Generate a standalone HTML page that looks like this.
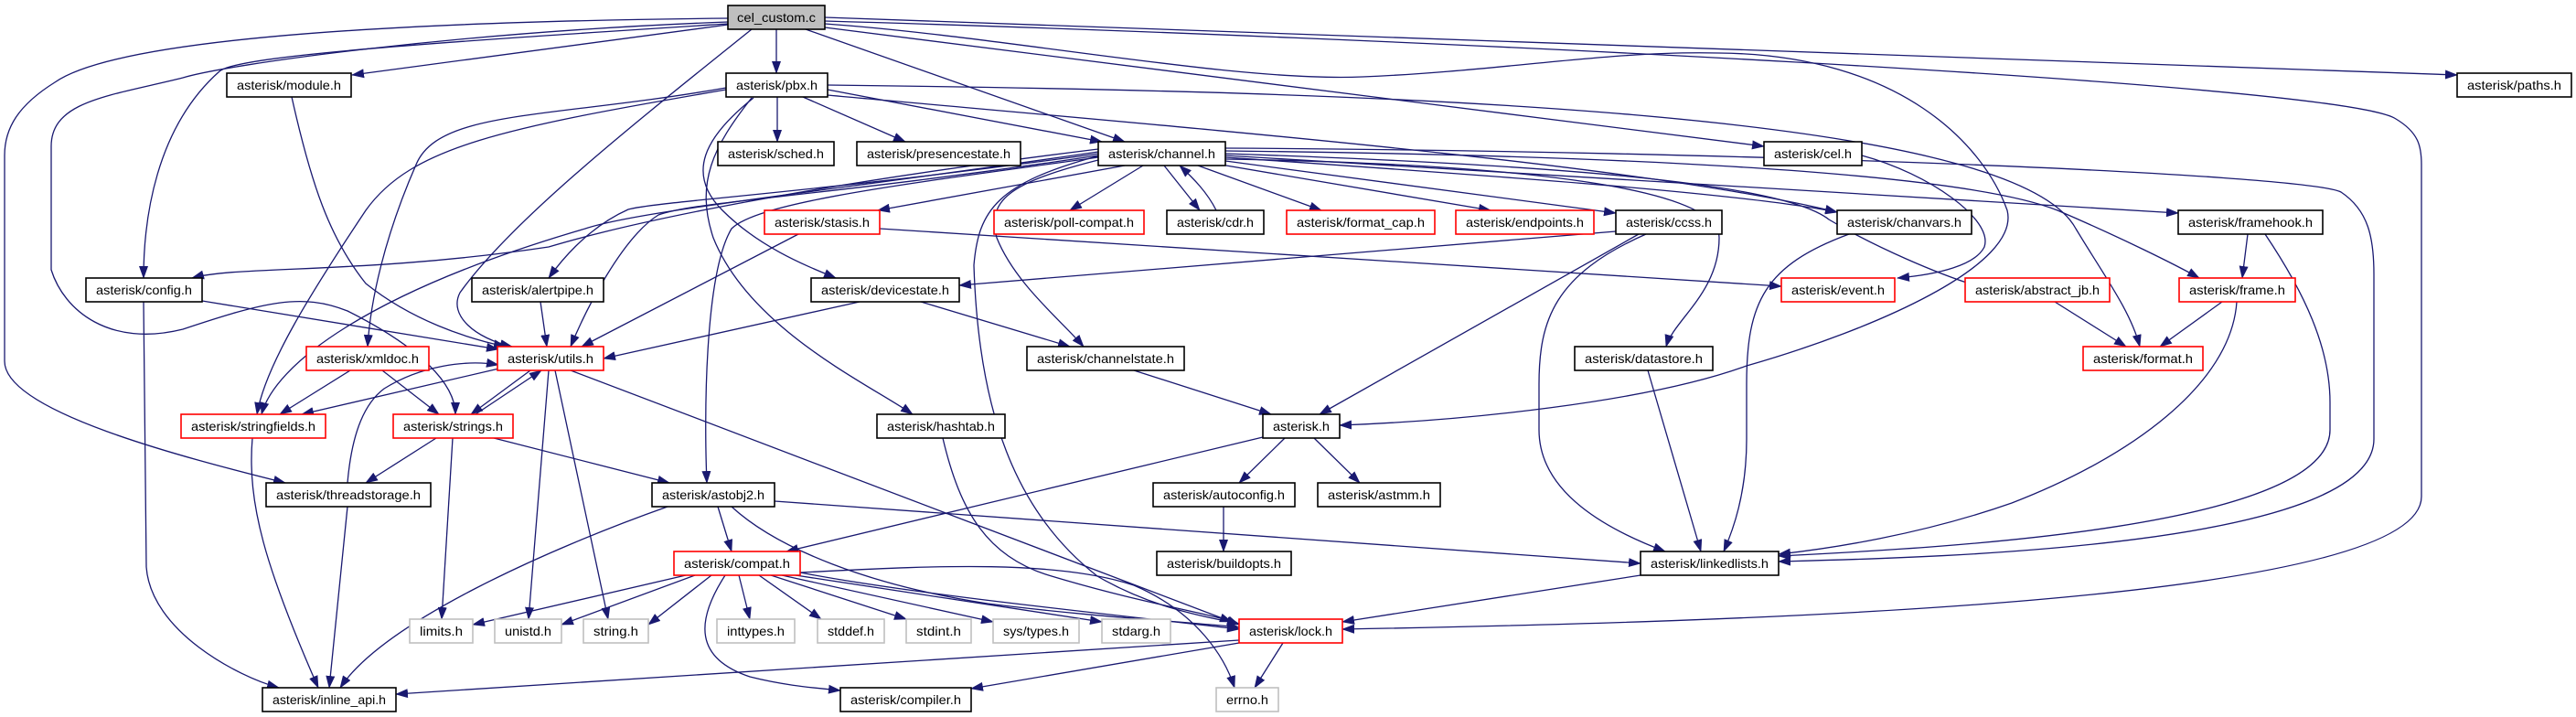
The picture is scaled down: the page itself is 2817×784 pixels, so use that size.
<!DOCTYPE html>
<html><head><meta charset="utf-8">
<style>
html,body{margin:0;padding:0;background:#fff;}
svg{display:block;}
text{font-family:"Liberation Sans",sans-serif;font-size:14px;fill:#000;}
.e{fill:none;stroke:#191970;stroke-width:1.3;marker-end:url(#a);}
.n rect{fill:#fff;stroke:#000;stroke-width:1.6;}
.r rect{fill:#fff;stroke:#ff0000;stroke-width:1.6;}
.g rect{fill:#fff;stroke:#bfbfbf;stroke-width:1.6;}
</style></head>
<body>
<svg width="2817" height="784" viewBox="0 0 2817 784" xmlns="http://www.w3.org/2000/svg">
<defs>
<marker id="a" markerWidth="14" markerHeight="10" refX="13" refY="5" orient="auto" markerUnits="userSpaceOnUse">
<path d="M0,0 L14,5 L0,10 z" fill="#191970"/>
</marker>
</defs>

<!-- edges -->
<g>
<!-- cel_custom.c -->
<path class="e" d="M796,27 L385,82"/>
<path class="e" d="M849,32 L849,80"/>
<path class="e" d="M822,32 C700,130 560,240 503,320 C490,345 520,370 560,379"/>
<path class="e" d="M796,26 C500,45 260,60 240,78 C170,140 157,240 157,304"/>
<path class="e" d="M796,24 C500,35 250,70 200,85 C120,105 56,110 56,160 L56,295 C70,340 120,380 200,360 C290,330 330,320 380,340 C460,380 498,420 498,453"/>
<path class="e" d="M796,20 C300,25 110,55 60,90 C20,115 5,140 5,170 L5,395 C5,450 200,500 312,528"/>
<path class="e" d="M881,32 L1230,155"/>
<path class="e" d="M902,30 L1929,160"/>
<path class="e" d="M902,19 L2687,82"/>
<path class="e" d="M902,23 C1500,40 2560,90 2620,130 C2645,145 2648,160 2648,180 L2648,543 C2648,660 1900,680 1468,688"/>
<path class="e" d="M902,26 C1100,40 1350,90 1490,84 C1640,78 1760,55 1880,58 C2080,60 2170,160 2195,230 C2210,290 2050,360 1910,400 C1800,440 1600,460 1465,465"/>
<!-- pbx.h -->
<path class="e" d="M850,106 L850,155"/>
<path class="e" d="M878,106 L990,155"/>
<path class="e" d="M905,98 L1205,155"/>
<path class="e" d="M905,93 C1500,100 2200,120 2270,250 C2300,300 2330,340 2340,379"/>
<path class="e" d="M905,104 C1300,140 1800,180 2009,232"/>
<path class="e" d="M794,96 C600,130 480,120 455,180 C420,260 405,330 402,379"/>
<path class="e" d="M794,98 C550,140 450,160 400,230 C340,320 290,400 281,453"/>
<path class="e" d="M824,107 C770,150 750,190 790,230 C830,270 880,290 914,304"/>
<path class="e" d="M822,107 C780,160 760,200 780,260 C820,360 950,420 998,453"/>
<!-- channel.h -->
<path class="e" d="M1201,163 C900,200 700,240 600,270 C400,300 260,290 210,304"/>
<path class="e" d="M1201,166 C900,210 700,230 640,250 C400,320 300,400 286,453"/>
<path class="e" d="M1201,168 C900,210 720,220 687,229 C640,250 610,290 600,304"/>
<path class="e" d="M1201,170 C900,215 760,220 720,235 C680,260 640,340 624,379"/>
<path class="e" d="M1201,172 C1000,200 830,220 800,250 C770,300 770,460 773,528"/>
<path class="e" d="M1230,181 L960,230"/>
<path class="e" d="M1250,181 L1170,230"/>
<path class="e" d="M1273,181 L1312,230"/>
<path class="e" d="M1330,230 C1320,210 1305,195 1290,181"/>
<path class="e" d="M1310,181 L1445,230"/>
<path class="e" d="M1335,180 L1630,230"/>
<path class="e" d="M1340,176 L1767,233"/>
<path class="e" d="M1340,172 C1600,190 1900,210 2009,232"/>
<path class="e" d="M1340,170 L2382,233"/>
<path class="e" d="M1340,168 C1700,180 1950,200 2000,240 C2050,270 2120,300 2163,313"/>
<path class="e" d="M1340,165 C1800,170 2150,190 2250,230 C2320,260 2380,290 2405,304"/>
<path class="e" d="M1340,162 C1900,165 2520,190 2560,210 C2590,230 2596,260 2596,300 L2596,480 C2596,600 2100,610 1945,614"/>
<path class="e" d="M1340,174 C1700,180 1880,210 1880,260 C1880,320 1830,350 1822,379"/>
<path class="e" d="M1205,174 C1100,200 1080,220 1090,260 C1110,310 1160,350 1185,379"/>
<path class="e" d="M1203,170 C1090,200 1070,230 1065,290 C1070,450 1110,560 1200,630 C1260,665 1320,675 1355,682"/>
<!-- second row -->
<path class="e" d="M875,255 L636,379"/>
<path class="e" d="M962,250 L1948,313"/>
<path class="e" d="M1767,253 L1049,312"/>
<path class="e" d="M1792,256 L1443,453"/>
<path class="e" d="M1800,256 C1700,300 1683,350 1683,420 L1683,470 C1683,540 1760,580 1821,603"/>
<path class="e" d="M2022,256 C1930,290 1910,330 1910,420 L1910,480 C1910,540 1895,580 1885,603"/>
<path class="e" d="M2036,170 C2110,190 2180,240 2170,270 C2160,290 2120,300 2075,304"/>
<path class="e" d="M2458,256 L2452,304"/>
<path class="e" d="M2477,256 C2520,320 2548,380 2548,440 L2548,470 C2548,580 2100,600 1945,608"/>
<!-- third row -->
<path class="e" d="M221,329 L545,382"/>
<path class="e" d="M157,330 L160,620 C165,690 260,740 305,752"/>
<path class="e" d="M591,330 L598,379"/>
<path class="e" d="M940,330 L660,392"/>
<path class="e" d="M1007,330 L1170,379"/>
<path class="e" d="M319,106 C340,200 360,260 400,310 C450,350 510,370 553,379"/>
<path class="e" d="M2247,330 L2325,379"/>
<path class="e" d="M2430,330 L2362,379"/>
<path class="e" d="M2446,330 C2440,420 2330,500 2200,550 C2100,585 2000,600 1945,606"/>
<!-- fourth row -->
<path class="e" d="M383,405 L306,453"/>
<path class="e" d="M418,405 L480,453"/>
<path class="e" d="M550,402 L330,453"/>
<path class="e" d="M580,405 L515,453"/>
<path class="e" d="M520,453 L592,405"/>
<path class="e" d="M380,528 C385,470 400,440 420,425 C460,400 510,393 545,399"/>
<path class="e" d="M600,405 L578,677"/>
<path class="e" d="M607,405 L665,677"/>
<path class="e" d="M624,405 L1355,683"/>
<path class="e" d="M1240,405 L1390,453"/>
<path class="e" d="M1802,405 L1860,603"/>
<!-- fifth row -->
<path class="e" d="M477,479 L400,528"/>
<path class="e" d="M495,479 L483,677"/>
<path class="e" d="M540,479 L732,528"/>
<path class="e" d="M276,479 C270,550 290,620 348,752"/>
<path class="e" d="M1031,479 C1050,560 1080,610 1150,630 C1250,660 1320,670 1347,680"/>
<path class="e" d="M1381,478 L860,603"/>
<path class="e" d="M1405,479 L1355,528"/>
<path class="e" d="M1437,479 L1487,528"/>
<!-- sixth row -->
<path class="e" d="M380,554 L360,752"/>
<path class="e" d="M730,554 C600,600 420,680 372,752"/>
<path class="e" d="M785,554 L800,603"/>
<path class="e" d="M800,554 C850,600 950,640 1080,660 C1200,675 1300,680 1355,686"/>
<path class="e" d="M847,548 L1794,616"/>
<path class="e" d="M1338,554 L1338,603"/>
<!-- compat -->
<path class="e" d="M750,629 L517,683"/>
<path class="e" d="M760,629 L614,683"/>
<path class="e" d="M778,629 L709,683"/>
<path class="e" d="M808,629 L820,677"/>
<path class="e" d="M830,629 L898,677"/>
<path class="e" d="M843,629 L991,677"/>
<path class="e" d="M855,629 L1086,680"/>
<path class="e" d="M870,629 L1205,680"/>
<path class="e" d="M875,626 C1000,650 1200,670 1355,688"/>
<path class="e" d="M875,626 C1000,620 1150,610 1240,640 C1310,670 1340,720 1350,752"/>
<path class="e" d="M793,629 C760,680 760,720 820,740 C860,750 890,752 919,755"/>
<path class="e" d="M1794,629 L1468,680"/>
<!-- lock -->
<path class="e" d="M1355,700 L433,759"/>
<path class="e" d="M1355,703 L1062,753"/>
<path class="e" d="M1403,703 L1372,752"/>
</g>

<!-- nodes -->
<g>
<g class="n"><rect x="796" y="6" width="106" height="26" style="fill:#bfbfbf"/><text x="849" y="24" text-anchor="middle" textLength="86" lengthAdjust="spacingAndGlyphs">cel_custom.c</text></g>
<g class="n"><rect x="248" y="80" width="136" height="26"/><text x="316" y="98" text-anchor="middle" textLength="114" lengthAdjust="spacingAndGlyphs">asterisk/module.h</text></g>
<g class="n"><rect x="794" y="80" width="111" height="26"/><text x="849.5" y="98" text-anchor="middle" textLength="89" lengthAdjust="spacingAndGlyphs">asterisk/pbx.h</text></g>
<g class="n"><rect x="2687" y="80" width="125" height="26"/><text x="2749.5" y="98" text-anchor="middle" textLength="103" lengthAdjust="spacingAndGlyphs">asterisk/paths.h</text></g>
<g class="n"><rect x="785" y="155" width="127" height="26"/><text x="848.5" y="173" text-anchor="middle" textLength="105" lengthAdjust="spacingAndGlyphs">asterisk/sched.h</text></g>
<g class="n"><rect x="937" y="155" width="179" height="26"/><text x="1026.5" y="173" text-anchor="middle" textLength="157" lengthAdjust="spacingAndGlyphs">asterisk/presencestate.h</text></g>
<g class="n"><rect x="1201" y="155" width="139" height="26"/><text x="1270.5" y="173" text-anchor="middle" textLength="117" lengthAdjust="spacingAndGlyphs">asterisk/channel.h</text></g>
<g class="n"><rect x="1929" y="155" width="107" height="26"/><text x="1982.5" y="173" text-anchor="middle" textLength="85" lengthAdjust="spacingAndGlyphs">asterisk/cel.h</text></g>
<g class="r"><rect x="836" y="230" width="126" height="26"/><text x="899" y="248" text-anchor="middle" textLength="104" lengthAdjust="spacingAndGlyphs">asterisk/stasis.h</text></g>
<g class="r"><rect x="1087" y="230" width="164" height="26"/><text x="1169" y="248" text-anchor="middle" textLength="142" lengthAdjust="spacingAndGlyphs">asterisk/poll-compat.h</text></g>
<g class="n"><rect x="1276" y="230" width="106" height="26"/><text x="1329" y="248" text-anchor="middle" textLength="84" lengthAdjust="spacingAndGlyphs">asterisk/cdr.h</text></g>
<g class="r"><rect x="1407" y="230" width="162" height="26"/><text x="1488" y="248" text-anchor="middle" textLength="140" lengthAdjust="spacingAndGlyphs">asterisk/format_cap.h</text></g>
<g class="r"><rect x="1592" y="230" width="151" height="26"/><text x="1667.5" y="248" text-anchor="middle" textLength="129" lengthAdjust="spacingAndGlyphs">asterisk/endpoints.h</text></g>
<g class="n"><rect x="1767" y="230" width="116" height="26"/><text x="1825" y="248" text-anchor="middle" textLength="94" lengthAdjust="spacingAndGlyphs">asterisk/ccss.h</text></g>
<g class="n"><rect x="2009" y="230" width="147" height="26"/><text x="2082.5" y="248" text-anchor="middle" textLength="125" lengthAdjust="spacingAndGlyphs">asterisk/chanvars.h</text></g>
<g class="n"><rect x="2382" y="230" width="158" height="26"/><text x="2461" y="248" text-anchor="middle" textLength="136" lengthAdjust="spacingAndGlyphs">asterisk/framehook.h</text></g>
<g class="n"><rect x="94" y="304" width="127" height="26"/><text x="157.5" y="322" text-anchor="middle" textLength="105" lengthAdjust="spacingAndGlyphs">asterisk/config.h</text></g>
<g class="n"><rect x="516" y="304" width="144" height="26"/><text x="588" y="322" text-anchor="middle" textLength="122" lengthAdjust="spacingAndGlyphs">asterisk/alertpipe.h</text></g>
<g class="n"><rect x="887" y="304" width="162" height="26"/><text x="968" y="322" text-anchor="middle" textLength="140" lengthAdjust="spacingAndGlyphs">asterisk/devicestate.h</text></g>
<g class="r"><rect x="1948" y="304" width="124" height="26"/><text x="2010" y="322" text-anchor="middle" textLength="102" lengthAdjust="spacingAndGlyphs">asterisk/event.h</text></g>
<g class="r"><rect x="2149" y="304" width="158" height="26"/><text x="2228" y="322" text-anchor="middle" textLength="136" lengthAdjust="spacingAndGlyphs">asterisk/abstract_jb.h</text></g>
<g class="r"><rect x="2383" y="304" width="127" height="26"/><text x="2446.5" y="322" text-anchor="middle" textLength="105" lengthAdjust="spacingAndGlyphs">asterisk/frame.h</text></g>
<g class="r"><rect x="335" y="379" width="134" height="26"/><text x="402" y="397" text-anchor="middle" textLength="112" lengthAdjust="spacingAndGlyphs">asterisk/xmldoc.h</text></g>
<g class="r"><rect x="544" y="379" width="116" height="26"/><text x="602" y="397" text-anchor="middle" textLength="94" lengthAdjust="spacingAndGlyphs">asterisk/utils.h</text></g>
<g class="n"><rect x="1123" y="379" width="172" height="26"/><text x="1209" y="397" text-anchor="middle" textLength="150" lengthAdjust="spacingAndGlyphs">asterisk/channelstate.h</text></g>
<g class="n"><rect x="1722" y="379" width="151" height="26"/><text x="1797.5" y="397" text-anchor="middle" textLength="129" lengthAdjust="spacingAndGlyphs">asterisk/datastore.h</text></g>
<g class="r"><rect x="2278" y="379" width="131" height="26"/><text x="2343.5" y="397" text-anchor="middle" textLength="109" lengthAdjust="spacingAndGlyphs">asterisk/format.h</text></g>
<g class="r"><rect x="198" y="453" width="158" height="26"/><text x="277" y="471" text-anchor="middle" textLength="136" lengthAdjust="spacingAndGlyphs">asterisk/stringfields.h</text></g>
<g class="r"><rect x="430" y="453" width="131" height="26"/><text x="495.5" y="471" text-anchor="middle" textLength="109" lengthAdjust="spacingAndGlyphs">asterisk/strings.h</text></g>
<g class="n"><rect x="959" y="453" width="140" height="26"/><text x="1029" y="471" text-anchor="middle" textLength="118" lengthAdjust="spacingAndGlyphs">asterisk/hashtab.h</text></g>
<g class="n"><rect x="1381" y="453" width="84" height="26"/><text x="1423" y="471" text-anchor="middle" textLength="62" lengthAdjust="spacingAndGlyphs">asterisk.h</text></g>
<g class="n"><rect x="291" y="528" width="180" height="26"/><text x="381" y="546" text-anchor="middle" textLength="158" lengthAdjust="spacingAndGlyphs">asterisk/threadstorage.h</text></g>
<g class="n"><rect x="713" y="528" width="134" height="26"/><text x="780" y="546" text-anchor="middle" textLength="112" lengthAdjust="spacingAndGlyphs">asterisk/astobj2.h</text></g>
<g class="n"><rect x="1261" y="528" width="155" height="26"/><text x="1338.5" y="546" text-anchor="middle" textLength="133" lengthAdjust="spacingAndGlyphs">asterisk/autoconfig.h</text></g>
<g class="n"><rect x="1441" y="528" width="134" height="26"/><text x="1508" y="546" text-anchor="middle" textLength="112" lengthAdjust="spacingAndGlyphs">asterisk/astmm.h</text></g>
<g class="r"><rect x="737" y="603" width="138" height="26"/><text x="806" y="621" text-anchor="middle" textLength="116" lengthAdjust="spacingAndGlyphs">asterisk/compat.h</text></g>
<g class="n"><rect x="1265" y="603" width="147" height="26"/><text x="1338.5" y="621" text-anchor="middle" textLength="125" lengthAdjust="spacingAndGlyphs">asterisk/buildopts.h</text></g>
<g class="n"><rect x="1794" y="603" width="151" height="26"/><text x="1869.5" y="621" text-anchor="middle" textLength="129" lengthAdjust="spacingAndGlyphs">asterisk/linkedlists.h</text></g>
<g class="g"><rect x="448" y="677" width="69" height="26"/><text x="482.5" y="695" text-anchor="middle" textLength="47" lengthAdjust="spacingAndGlyphs">limits.h</text></g>
<g class="g"><rect x="541" y="677" width="73" height="26"/><text x="577.5" y="695" text-anchor="middle" textLength="51" lengthAdjust="spacingAndGlyphs">unistd.h</text></g>
<g class="g"><rect x="638" y="677" width="71" height="26"/><text x="673.5" y="695" text-anchor="middle" textLength="49" lengthAdjust="spacingAndGlyphs">string.h</text></g>
<g class="g"><rect x="784" y="677" width="85" height="26"/><text x="826.5" y="695" text-anchor="middle" textLength="63" lengthAdjust="spacingAndGlyphs">inttypes.h</text></g>
<g class="g"><rect x="894" y="677" width="73" height="26"/><text x="930.5" y="695" text-anchor="middle" textLength="51" lengthAdjust="spacingAndGlyphs">stddef.h</text></g>
<g class="g"><rect x="991" y="677" width="71" height="26"/><text x="1026.5" y="695" text-anchor="middle" textLength="49" lengthAdjust="spacingAndGlyphs">stdint.h</text></g>
<g class="g"><rect x="1086" y="677" width="94" height="26"/><text x="1133" y="695" text-anchor="middle" textLength="72" lengthAdjust="spacingAndGlyphs">sys/types.h</text></g>
<g class="g"><rect x="1205" y="677" width="75" height="26"/><text x="1242.5" y="695" text-anchor="middle" textLength="53" lengthAdjust="spacingAndGlyphs">stdarg.h</text></g>
<g class="r"><rect x="1355" y="677" width="113" height="26"/><text x="1411.5" y="695" text-anchor="middle" textLength="91" lengthAdjust="spacingAndGlyphs">asterisk/lock.h</text></g>
<g class="n"><rect x="287" y="752" width="146" height="26"/><text x="360" y="770" text-anchor="middle" textLength="124" lengthAdjust="spacingAndGlyphs">asterisk/inline_api.h</text></g>
<g class="n"><rect x="919" y="752" width="143" height="26"/><text x="990.5" y="770" text-anchor="middle" textLength="121" lengthAdjust="spacingAndGlyphs">asterisk/compiler.h</text></g>
<g class="g"><rect x="1330" y="752" width="68" height="26"/><text x="1364" y="770" text-anchor="middle" textLength="46" lengthAdjust="spacingAndGlyphs">errno.h</text></g>
</g>
</svg>
</body></html>
